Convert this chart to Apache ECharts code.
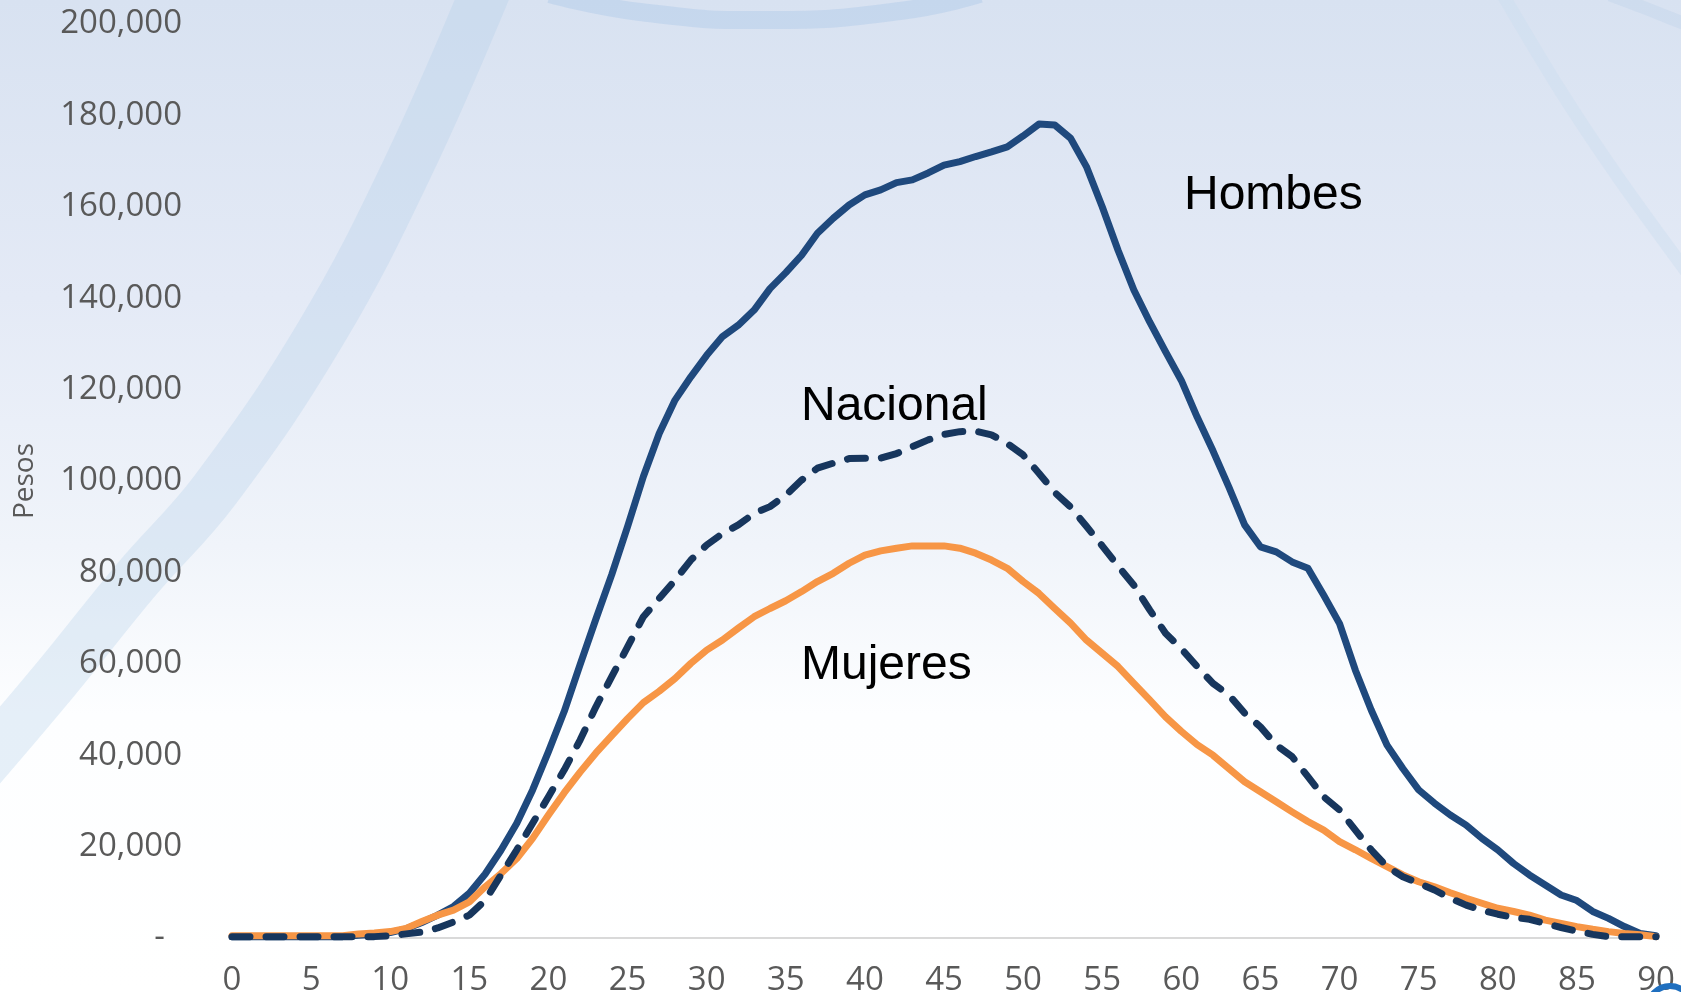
<!DOCTYPE html>
<html>
<head>
<meta charset="utf-8">
<script src="https://cdn.jsdelivr.net/npm/echarts@6/dist/echarts.min.js"></script>
<style>
  html, body { margin: 0; padding: 0; background: #ffffff; }
  #chart { width: 1681px; height: 992px; }
</style>
</head>
<body>
<div id="chart"></div>
<script>
// ---- Data ----
const ages = [
  0,1,2,3,4,5,6,7,8,9,10,11,12,13,14,15,16,17,18,19,20,21,22,23,24,25,26,27,28,29,
  30,31,32,33,34,35,36,37,38,39,40,41,42,43,44,45,46,47,48,49,50,51,52,53,54,55,56,57,58,59,
  60,61,62,63,64,65,66,67,68,69,70,71,72,73,74,75,76,77,78,79,80,81,82,83,84,85,86,87,88,89,90
];

const hombres = [
  300,300,300,300,300,300,300,300,600,800,
  1200,2000,3400,5000,6900,9800,14000,19200,25100,32400,
  40800,49600,59800,69800,79500,90000,101000,110400,117700,122800,
  127500,131600,134100,137400,142100,145600,149400,154200,157500,160400,
  162600,163700,165300,165900,167400,169100,169900,171000,172000,173100,
  175500,178100,177900,175000,168800,160000,150500,141800,134800,128300,
  122000,114000,106600,98700,90400,85600,84500,82300,80900,75000,
  68800,58600,49900,42200,37100,32400,29500,26900,24700,21800,
  19300,16300,13800,11600,9400,8200,5800,4300,2500,1000,
  500
];

const mujeres = [
  500,500,500,500,500,500,500,500,900,1100,
  1400,2100,3600,5000,6100,7900,11200,14100,17400,21800,
  26900,31800,36300,40500,44300,48000,51500,54000,56800,60100,
  63000,65200,67800,70300,72100,73800,75800,78000,79800,82000,
  83800,84700,85300,85800,85800,85800,85300,84200,82700,80900,
  78000,75400,72100,68900,65200,62300,59400,55700,52100,48400,
  45200,42300,40000,37100,34200,32000,29800,27600,25500,23600,
  21100,19300,17400,15600,13800,12300,11200,9900,8700,7600,
  6500,5800,5000,3900,3200,2500,1900,1400,1000,700,
  300
];

const nacional = [
  300,300,300,300,300,300,300,300,300,300,
  500,900,1300,2200,3500,5000,8200,13800,19300,25100,
  30900,36800,43300,50600,57200,63700,70300,74300,78300,82700,
  86000,88500,90400,92900,94400,96900,100200,102800,103900,104900,
  105000,105000,106000,107500,109000,110200,110800,110900,110100,108200,
  105700,101700,97500,94300,90100,85800,81400,77200,71800,66700,
  63300,59400,55700,53200,49200,46200,42200,39700,35300,30900,
  28000,23600,19300,15600,13400,12000,10500,8700,7200,6100,
  5200,4500,4100,3200,2300,1500,800,300,300,300,
  300
];

const seriesNames = ['Hombes', 'Mujeres', 'Nacional'];
const yAxisName = 'Pesos';

// ---- Chart ----
const chart = echarts.init(document.getElementById('chart'), null, { renderer: 'canvas' });

const tickFont = "'Open Sans', 'Noto Sans', sans-serif";
const annFont = "'Liberation Sans', Arial, sans-serif";

const option = {
  animation: false,
  backgroundColor: new echarts.graphic.LinearGradient(0, 0, 0, 1, [
    { offset: 0, color: '#d8e2f1' },
    { offset: 0.3, color: '#e4eaf6' },
    { offset: 0.55, color: '#f0f4fa' },
    { offset: 0.72, color: '#fdfeff' },
    { offset: 1, color: '#ffffff' }
  ]),
  grid: { left: 232, right: 25, top: 24, bottom: 54, containLabel: false, outerBoundsMode: 'none' },
  xAxis: {
    type: 'category',
    data: ages,
    boundaryGap: false,
    axisLine: { show: true, lineStyle: { color: '#d9d9d9', width: 2 } },
    axisTick: { show: false },
    splitLine: { show: false },
    axisLabel: {
      interval: 4,
      color: '#595959',
      fontFamily: tickFont,
      fontSize: 33,
      margin: 26
    }
  },
  yAxis: {
    type: 'value',
    min: 0,
    max: 200000,
    interval: 20000,
    name: yAxisName,
    nameLocation: 'middle',
    nameRotate: 90,
    nameGap: 193,
    nameTextStyle: { color: '#595959', fontFamily: tickFont, fontSize: 28 },
    axisLine: { show: false },
    axisTick: { show: false },
    splitLine: { show: false },
    axisLabel: {
      color: '#595959',
      fontFamily: tickFont,
      fontSize: 33,
      margin: 50,
      padding: [5, 0, 0, 0],
      formatter: function (v) {
        if (v === 0) return '-  ';
        return v.toLocaleString('en-US');
      }
    }
  },
  graphic: [
    // decorative background swooshes
    {
      type: 'polyline', z: -10, silent: true,
      shape: { points: [[490, -20], [408, 167], [321, 333], [215, 490], [136, 580], [55, 680], [-30, 780]], smooth: 0.4 },
      style: { fill: null, stroke: 'rgba(175,204,232,0.3)', lineWidth: 50 }
    },
    {
      type: 'polyline', z: -10, silent: true,
      shape: { points: [[550, -6], [640, 12], [768, 20], [900, 11], [980, -6]], smooth: 0.5 },
      style: { fill: null, stroke: 'rgba(175,202,232,0.45)', lineWidth: 18 }
    },
    {
      type: 'polyline', z: -10, silent: true,
      shape: { points: [[1500, -10], [1560, 90], [1620, 180], [1700, 290]], smooth: 0.3 },
      style: { fill: null, stroke: 'rgba(205,221,240,0.45)', lineWidth: 13 }
    },
    {
      type: 'polyline', z: -10, silent: true,
      shape: { points: [[1610, -5], [1650, 10], [1700, 30]], smooth: 0.3 },
      style: { fill: null, stroke: 'rgba(195,213,236,0.45)', lineWidth: 13 }
    },
    {
      type: 'circle', z: 10, silent: true,
      shape: { cx: 1670, cy: 1008, r: 22 },
      style: { fill: null, stroke: '#1f6fbf', lineWidth: 6 }
    },
    // series annotations
    {
      type: 'text', z: 20,
      style: { x: 1184, y: 196, text: seriesNames[0], font: '48px ' + annFont, fill: '#000000', verticalAlign: 'middle', align: 'left' }
    },
    {
      type: 'text', z: 20,
      style: { x: 801, y: 407, text: seriesNames[2], font: '48px ' + annFont, fill: '#000000', verticalAlign: 'middle', align: 'left' }
    },
    {
      type: 'text', z: 20,
      style: { x: 801, y: 666, text: seriesNames[1], font: '48px ' + annFont, fill: '#000000', verticalAlign: 'middle', align: 'left' }
    }
  ],
  series: [
    {
      name: seriesNames[0], type: 'line', data: hombres,
      showSymbol: false, smooth: false, z: 3,
      lineStyle: { color: '#1f497d', width: 7, join: 'round', cap: 'round' }
    },
    {
      name: seriesNames[1], type: 'line', data: mujeres,
      showSymbol: false, smooth: false, z: 4,
      lineStyle: { color: '#f79646', width: 7, join: 'round', cap: 'round' }
    },
    {
      name: seriesNames[2], type: 'line', data: nacional,
      showSymbol: false, smooth: false, z: 5,
      lineStyle: { color: '#17365d', width: 7, type: [18, 16], join: 'round', cap: 'round' }
    }
  ]
};

chart.setOption(option);
</script>
</body>
</html>
